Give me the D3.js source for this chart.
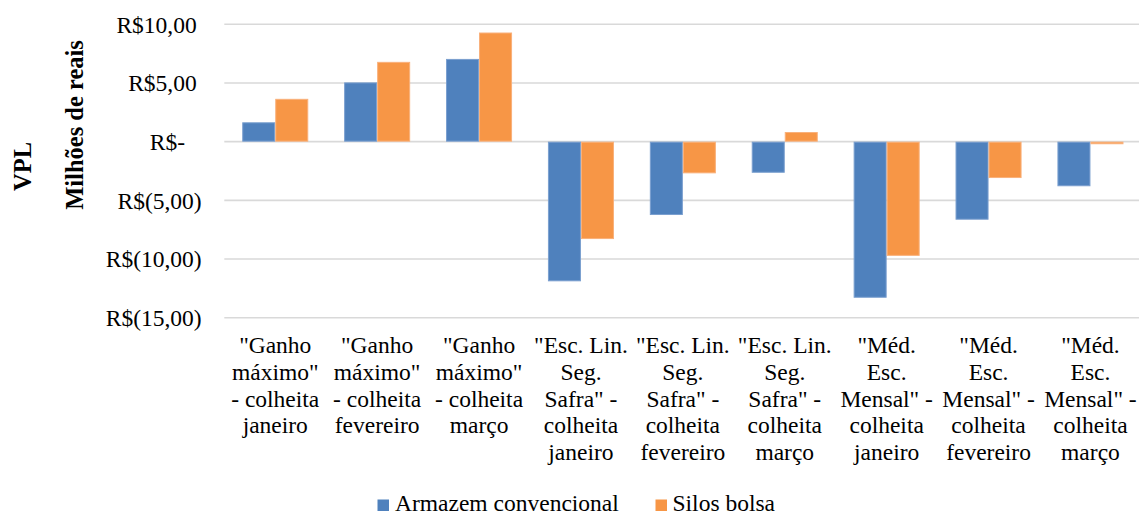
<!DOCTYPE html>
<html>
<head>
<meta charset="utf-8">
<script src="https://cdn.jsdelivr.net/npm/d3@7"></script>
<style>
  html, body { margin: 0; padding: 0; background: #fff; }
  svg text { font-family: "Liberation Serif", "Times New Roman", serif !important; fill: #000; }
</style>
</head>
<body>
<svg id="chart" width="1139" height="515"></svg>
<script>
// Category labels, one entry per line of the wrapped label
const categories = [
  ['"Ganho', 'máximo"', '- colheita', 'janeiro'],
  ['"Ganho', 'máximo"', '- colheita', 'fevereiro'],
  ['"Ganho', 'máximo"', '- colheita', 'março'],
  ['"Esc. Lin.', 'Seg.', 'Safra" -', 'colheita', 'janeiro'],
  ['"Esc. Lin.', 'Seg.', 'Safra" -', 'colheita', 'fevereiro'],
  ['"Esc. Lin.', 'Seg.', 'Safra" -', 'colheita', 'março'],
  ['"Méd.', 'Esc.', 'Mensal" -', 'colheita', 'janeiro'],
  ['"Méd.', 'Esc.', 'Mensal" -', 'colheita', 'fevereiro'],
  ['"Méd.', 'Esc.', 'Mensal" -', 'colheita', 'março']
];

const seriesNames = ["Armazem convencional", "Silos bolsa"];

// VPL in millions of reais
const armazemConvencional = [1.65, 5.05, 7.05, -11.9, -6.25, -2.65, -13.3, -6.65, -3.8];
const silosBolsa = [3.65, 6.8, 9.3, -8.3, -2.7, 0.82, -9.73, -3.1, -0.22];

const yTicks = [10, 5, 0, -5, -10, -15];
const yTickLabels = ["R$10,00", "R$5,00", "R$-", "R$(5,00)", "R$(10,00)", "R$(15,00)"];

const colors = ["#4F81BD", "#F79646"];
const strokes = ["#7A9FCF", "#F9B07A"];

const svg = d3.select("#chart");

const plotLeft = 224.3, plotRight = 1141.4;
const yTop = 24.3, yBottom = 317.7;

const catKeys = categories.map((c, i) => i);

const x0 = d3.scaleBand()
  .domain(catKeys)
  .range([plotLeft, plotRight])
  .paddingInner(0.352)
  .paddingOuter(0.176);

const x1 = d3.scaleBand()
  .domain([0, 1])
  .range([0, x0.bandwidth()])
  .padding(0);

const y = d3.scaleLinear()
  .domain([10, -15])
  .range([yTop, yBottom]);

// Gridlines
svg.append("g")
  .selectAll("line")
  .data(yTicks)
  .join("line")
  .attr("x1", plotLeft)
  .attr("x2", plotRight)
  .attr("y1", d => y(d))
  .attr("y2", d => y(d))
  .attr("stroke", "#D9D9D9")
  .attr("stroke-width", 1.6);

// Y axis tick labels (accounting format alignment)
const yAxis = d3.axisLeft(y)
  .tickValues(yTicks)
  .tickSize(0)
  .tickFormat((d, i) => yTickLabels[i]);

const yAxisG = svg.append("g").call(yAxis)
  .attr("font-family", null)
  .attr("font-size", null);
yAxisG.select(".domain").remove();
yAxisG.selectAll(".tick text")
  .attr("x", d => d > 0 ? 196.7 : (d < 0 ? 201.7 : 185))
  .attr("dy", "0.33em")
  .attr("text-anchor", "end")
  .style("font-size", "23.5px");

// Bars
const seriesData = [armazemConvencional, silosBolsa];
const groups = svg.append("g")
  .selectAll("g")
  .data(catKeys)
  .join("g")
  .attr("transform", d => `translate(${x0(d)},0)`);

groups.selectAll("rect")
  .data(i => seriesData.map((s, k) => ({ k, v: s[i] })))
  .join("rect")
  .attr("x", d => x1(d.k) + 0.5)
  .attr("width", x1.bandwidth() - 1)
  .attr("y", d => Math.min(y(d.v), y(0)) + 0.5)
  .attr("height", d => Math.max(0, Math.abs(y(d.v) - y(0)) - 1))
  .attr("fill", d => colors[d.k])
  .attr("stroke", d => strokes[d.k])
  .attr("stroke-width", 1);

// Category labels
const xAxis = d3.axisBottom(x0).tickSize(0).tickFormat("");
const xAxisG = svg.append("g")
  .attr("transform", `translate(0,${yBottom})`)
  .call(xAxis)
  .attr("font-family", null)
  .attr("font-size", null);
xAxisG.select(".domain").remove();
xAxisG.selectAll(".tick").each(function (d) {
  const t = d3.select(this).select("text")
    .attr("y", 0)
    .attr("dy", null)
    .attr("text-anchor", "middle")
    .style("font-size", "23.5px");
  t.selectAll("tspan")
    .data(categories[d])
    .join("tspan")
    .attr("x", 0)
    .attr("y", (line, j) => 35.8 + j * 26.6)
    .text(line => line);
});

// Axis title (two rotated lines)
svg.append("text")
  .attr("transform", "translate(31,166.5) rotate(-90)")
  .attr("text-anchor", "middle")
  .style("font-weight", "bold")
  .style("font-size", "24.5px")
  .text("VPL");

svg.append("text")
  .attr("transform", "translate(82.5,125) rotate(-90)")
  .attr("text-anchor", "middle")
  .style("font-weight", "bold")
  .style("font-size", "24.5px")
  .text("Milhões de reais");

// Legend
const legendItems = [
  { name: seriesNames[0], color: colors[0], sx: 377.5, tx: 395 },
  { name: seriesNames[1], color: colors[1], sx: 655.5, tx: 672.5 }
];
const legend = svg.append("g");
legend.selectAll("rect")
  .data(legendItems)
  .join("rect")
  .attr("x", d => d.sx)
  .attr("y", 499.5)
  .attr("width", 11.5)
  .attr("height", 11.5)
  .attr("fill", d => d.color);
legend.selectAll("text")
  .data(legendItems)
  .join("text")
  .attr("x", d => d.tx)
  .attr("y", 510.5)
  .style("font-size", "23.5px")
  .text(d => d.name);
</script>
</body>
</html>
